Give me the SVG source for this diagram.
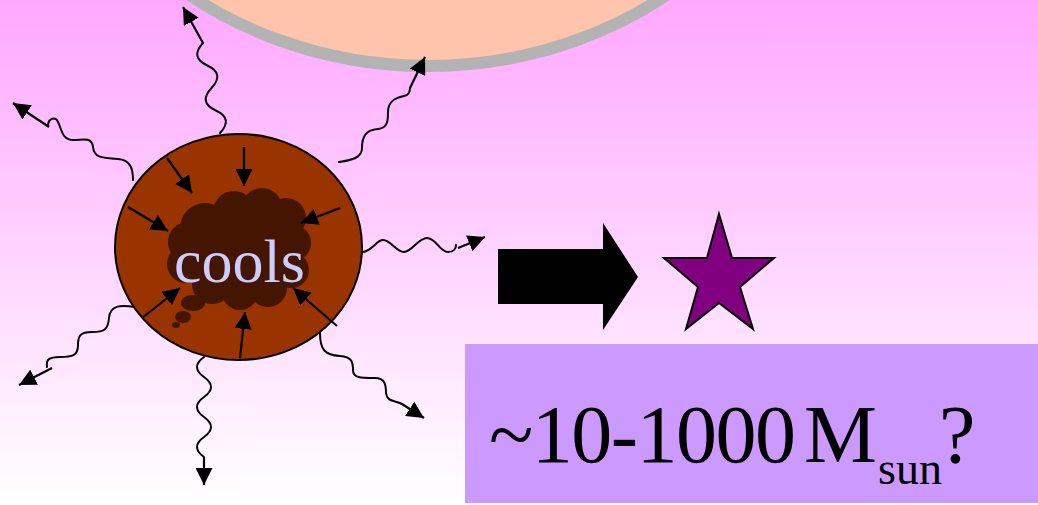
<svg xmlns="http://www.w3.org/2000/svg" width="1038" height="505" viewBox="0 0 1038 505">
  <defs>
    <linearGradient id="sky" x1="0" y1="0" x2="0" y2="1">
      <stop offset="0" stop-color="#ffa8ff"/>
      <stop offset="1" stop-color="#ffffff"/>
    </linearGradient>
    <marker id="head" viewBox="0 0 17 17" refX="17" refY="8.5" markerWidth="17" markerHeight="17" markerUnits="userSpaceOnUse" orient="auto">
      <path d="M0,0 L17,8.5 L0,17 z" fill="#000"/>
    </marker>
  </defs>
  <style>
    .wave { fill: none; stroke: #000; stroke-width: 2; stroke-linecap: round; }
    .shaft { fill: none; stroke: #000; stroke-width: 2.2; marker-end: url(#head); }
    .serif { font-family: "Liberation Serif", "Times New Roman", serif; }
  </style>

  <!-- backdrop -->
  <rect x="0" y="0" width="1038" height="505" fill="url(#sky)"/>

  <!-- large body above -->
  <g id="sun">
    <ellipse cx="428" cy="-294" rx="400" ry="360" fill="#ffc4ac" stroke="#b3b3b3" stroke-width="12"/>
  </g>

  <!-- radiating photons -->
  <g id="connectors">
    <!-- up toward the large body, left -->
    <path class="wave" d="M220,133 Q233.6,118.7 215.8,110.5 T211.5,88 T207.3,65.5 T203,43"/>
    <line class="shaft" x1="203" y1="43" x2="183" y2="7"/>
    <!-- up toward the large body, right -->
    <path class="wave" d="M339,162 C352,160 362,158 362,148 C362,136 366,130 378,129 C388,128 388,120 388,112 C388,102 394,98 404,96 C410,95 410,90 410,88"/>
    <line class="shaft" x1="410" y1="88" x2="425" y2="57"/>
    <!-- upper left -->
    <path class="wave" d="M133,180 C133,168 130,160 118,159 C100,158 94,157 93,147 C92,138 85,139 75,140 C62,141 62,130 58,122 C56,116 48,118 48,126"/>
    <line class="shaft" x1="49" y1="127" x2="13" y2="103"/>
    <!-- right -->
    <path class="wave" d="M362,252 C372,252 376,240 383,240 C391,240 396,252 404,252 C412,252 418,238 427,238 C436,238 440,252 448,252 C454,252 456,248 456,245"/>
    <line class="shaft" x1="458" y1="248" x2="485" y2="237"/>
    <!-- lower left -->
    <path class="wave" d="M135,307 C120,305 110,305 109,318 C108,330 104,332 92,332 C80,332 78,336 78,345 C78,356 72,357 60,357 C48,357 46,360 47,367"/>
    <line class="shaft" x1="52" y1="368" x2="19" y2="385"/>
    <!-- down -->
    <path class="wave" d="M204,357 Q190,367 204,377 T204,397 T204,417 T204,437 T204,457"/>
    <line class="shaft" x1="204" y1="457" x2="204" y2="485"/>
    <!-- lower right -->
    <path class="wave" d="M320,333 C320,350 325,355 340,356 C352,357 353,362 353,370 C353,378 360,378 375,378 C385,378 386,385 386,393 C387,402 394,400 402,404"/>
    <line class="shaft" x1="402" y1="404" x2="424" y2="418"/>
  </g>

  <!-- collapsing cloud -->
  <g id="cloud">
    <ellipse cx="238.5" cy="247" rx="123.5" ry="113" fill="#993300" stroke="#000" stroke-width="2"/>
    <g fill="#441500">
      <circle cx="240" cy="250" r="50"/>
      <circle cx="205" cy="228" r="25"/>
      <circle cx="234" cy="212" r="21"/>
      <circle cx="262" cy="208" r="20"/>
      <circle cx="286" cy="218" r="20"/>
      <circle cx="293" cy="243" r="18"/>
      <circle cx="291" cy="270" r="18"/>
      <circle cx="268" cy="288" r="19"/>
      <circle cx="240" cy="292" r="18"/>
      <circle cx="212" cy="284" r="20"/>
      <circle cx="186" cy="264" r="19"/>
      <circle cx="188" cy="242" r="20"/>
      <ellipse cx="193" cy="303" rx="12" ry="8"/>
      <ellipse cx="183" cy="317" rx="8" ry="6"/>
      <ellipse cx="176" cy="325" rx="4" ry="3"/>
    </g>
    <text class="serif" x="174" y="282" font-size="62" fill="#ccccff">cools</text>
    <!-- inward pressure -->
    <line class="shaft" x1="167" y1="158" x2="192" y2="193"/>
    <line class="shaft" x1="244" y1="147" x2="244" y2="186"/>
    <line class="shaft" x1="340" y1="208" x2="301" y2="223"/>
    <line class="shaft" x1="128" y1="207" x2="168" y2="231"/>
    <line class="shaft" x1="142" y1="318" x2="180" y2="288"/>
    <line class="shaft" x1="240" y1="358" x2="245" y2="312"/>
    <line class="shaft" x1="337" y1="326" x2="293" y2="288"/>
  </g>

  <!-- block arrow -->
  <g id="block-arrow">
    <polygon points="498,249 603,249 603,223 638,277 603,330 603,304 498,304" fill="#000"/>
  </g>

  <!-- resulting star -->
  <g id="star">
    <polygon points="719,214 732,258 774,258 740,287 753,329 719,303 686,329 698,287 664,258 707,258" fill="#800080" stroke="#000" stroke-width="2" stroke-linejoin="miter"/>
  </g>

  <!-- mass estimate -->
  <g id="mass-label">
    <rect x="465" y="344" width="580" height="159" fill="#cc99ff"/>
    <text class="serif" y="462" font-size="82" fill="#000"><tspan x="489" textLength="307" lengthAdjust="spacing">~10-1000</tspan><tspan x="804">M</tspan><tspan x="878" y="484" font-size="46">sun</tspan><tspan x="939" y="462">?</tspan></text>
  </g>
</svg>
